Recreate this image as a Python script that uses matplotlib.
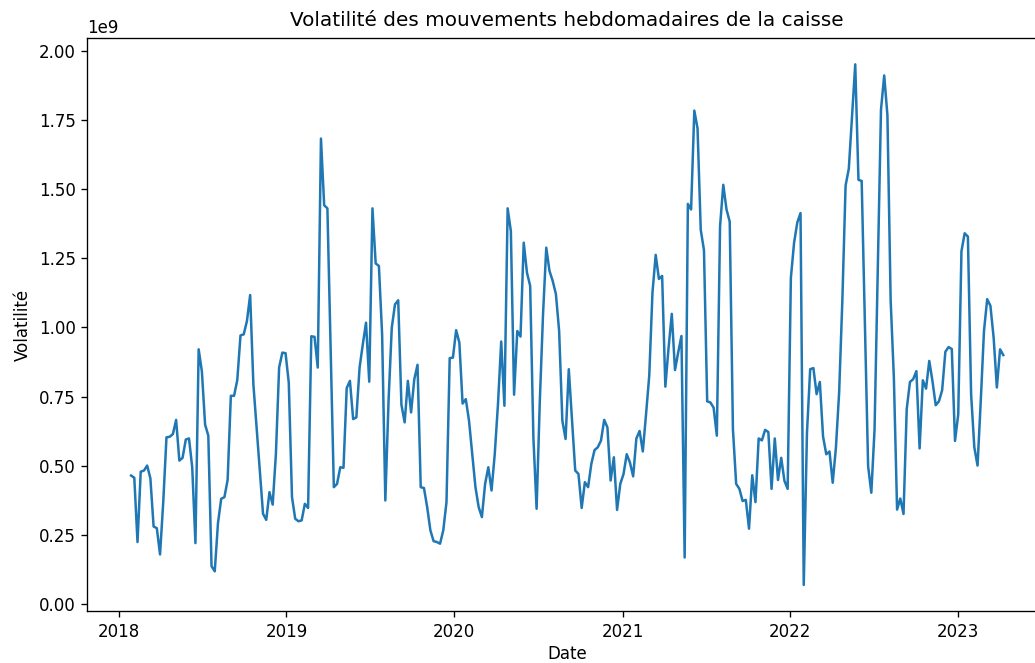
"""
Volatilité hebdomadaire de la caisse - courbe 2018-2023
"""
import numpy as np
import pandas as pd
import matplotlib
matplotlib.use("Agg")
import matplotlib.pyplot as plt

# Première semaine de la série et numéro de semaine de chaque point
start_date = "2018-01-28"
weeks = [
    0, 1, 2, 3, 4, 5, 6, 7, 8, 9, 10, 11, 12, 13, 14, 15, 16, 17, 18, 19,
    20, 21, 22, 23, 24, 25, 26, 27, 28, 29, 30, 31, 32, 33, 34, 35, 36, 37, 38, 41,
    42, 43, 44, 45, 46, 47, 48, 49, 50, 51, 52, 53, 54, 55, 56, 57, 58, 59, 60, 61,
    63, 64, 65, 66, 67, 68, 69, 70, 71, 72, 73, 74, 75, 76, 77, 78, 79, 80, 81, 82,
    83, 84, 85, 86, 87, 88, 89, 90, 91, 92, 93, 94, 95, 96, 97, 98, 99, 100, 101, 102,
    103, 104, 105, 106, 107, 108, 109, 110, 111, 112, 113, 114, 115, 116, 117, 118, 119, 120, 121, 122,
    123, 124, 125, 126, 127, 128, 129, 130, 131, 132, 133, 134, 135, 136, 137, 138, 139, 140, 141, 142,
    143, 144, 145, 146, 147, 148, 149, 150, 151, 152, 153, 154, 155, 156, 157, 158, 159, 160, 161, 162,
    163, 164, 165, 166, 167, 168, 169, 170, 171, 172, 173, 174, 175, 176, 177, 178, 179, 180, 181, 182,
    183, 184, 185, 186, 187, 188, 189, 190, 191, 192, 193, 194, 195, 196, 197, 198, 199, 200, 201, 202,
    203, 204, 205, 206, 207, 208, 209, 210, 211, 212, 213, 214, 215, 216, 217, 218, 219, 220, 221, 222,
    223, 225, 226, 227, 229, 230, 231, 233, 234, 235, 236, 237, 238, 239, 240, 241, 242, 243, 244, 245,
    246, 247, 248, 249, 250, 251, 252, 253, 254, 255, 256, 257, 258, 259, 260, 261, 262, 263, 264, 265,
    266, 267, 268, 269, 270, 271,
]
# Volatilité (en milliards)
volatility = [
    0.465, 0.457, 0.225, 0.479, 0.483, 0.501, 0.455, 0.281, 0.275, 0.180,
    0.370, 0.603, 0.605, 0.615, 0.666, 0.519, 0.529, 0.595, 0.599, 0.495,
    0.221, 0.921, 0.841, 0.649, 0.609, 0.138, 0.119, 0.293, 0.381, 0.387,
    0.449, 0.753, 0.753, 0.810, 0.971, 0.975, 1.023, 1.117, 0.795, 0.327,
    0.305, 0.405, 0.360, 0.543, 0.855, 0.909, 0.907, 0.800, 0.387, 0.309,
    0.300, 0.303, 0.363, 0.348, 0.968, 0.966, 0.855, 1.682, 1.441, 1.430,
    0.423, 0.435, 0.495, 0.493, 0.781, 0.807, 0.669, 0.675, 0.855, 0.939,
    1.017, 0.804, 1.430, 1.231, 1.222, 0.975, 0.375, 0.735, 0.999, 1.083,
    1.098, 0.721, 0.657, 0.807, 0.693, 0.813, 0.865, 0.423, 0.420, 0.351,
    0.267, 0.228, 0.225, 0.219, 0.267, 0.369, 0.889, 0.891, 0.990, 0.945,
    0.725, 0.741, 0.663, 0.543, 0.423, 0.351, 0.315, 0.435, 0.495, 0.411,
    0.543, 0.723, 0.949, 0.717, 1.430, 1.348, 0.757, 0.987, 0.967, 1.306,
    1.198, 1.150, 0.603, 0.345, 0.735, 1.048, 1.288, 1.204, 1.168, 1.120,
    0.987, 0.663, 0.597, 0.849, 0.663, 0.483, 0.471, 0.348, 0.441, 0.423,
    0.507, 0.557, 0.567, 0.591, 0.666, 0.639, 0.447, 0.531, 0.341, 0.435,
    0.470, 0.542, 0.512, 0.462, 0.599, 0.626, 0.552, 0.686, 0.826, 1.126,
    1.262, 1.175, 1.186, 0.786, 0.926, 1.049, 0.846, 0.910, 0.969, 0.169,
    1.446, 1.426, 1.783, 1.719, 1.352, 1.279, 0.733, 0.729, 0.710, 0.609,
    1.366, 1.515, 1.426, 1.382, 0.632, 0.435, 0.417, 0.373, 0.377, 0.273,
    0.466, 0.369, 0.599, 0.592, 0.630, 0.622, 0.417, 0.599, 0.449, 0.529,
    0.446, 0.417, 1.179, 1.306, 1.379, 1.413, 0.070, 0.619, 0.849, 0.853,
    0.759, 0.803, 0.606, 0.542, 0.552, 0.439, 0.566, 0.766, 1.099, 1.512,
    1.573, 1.950, 1.533, 1.529, 0.499, 0.403, 0.632, 1.786, 1.910, 1.766,
    1.099, 0.819, 0.342, 0.382, 0.326, 0.706, 0.803, 0.813, 0.842, 0.563,
    0.809, 0.779, 0.879, 0.806, 0.719, 0.733, 0.773, 0.912, 0.929, 0.922,
    0.590, 0.686, 1.275, 1.340, 1.328, 0.759, 0.567, 0.501, 0.735, 0.987,
    1.102, 1.078, 0.963, 0.783, 0.921, 0.900,
]

dates = pd.Timestamp(start_date) + pd.to_timedelta(np.array(weeks) * 7, unit="D")
values = np.array(volatility) * 1e9

# Figure rognée à droite comme l'original : l'axe déborde légèrement du cadre
fig = plt.figure(figsize=(1035 / 120, 663 / 120), dpi=120)
ax = fig.add_axes([0.0845, 0.0785, 0.927, 0.8637])
ax.plot(dates, values, color='#1f77b4', linewidth=1.5)

ax.set_title('Volatilité des mouvements hebdomadaires de la caisse', pad=7.5)
ax.set_xlabel('Date', labelpad=2.5)
ax.set_ylabel('Volatilité')

plt.savefig('out.png', dpi=120)
